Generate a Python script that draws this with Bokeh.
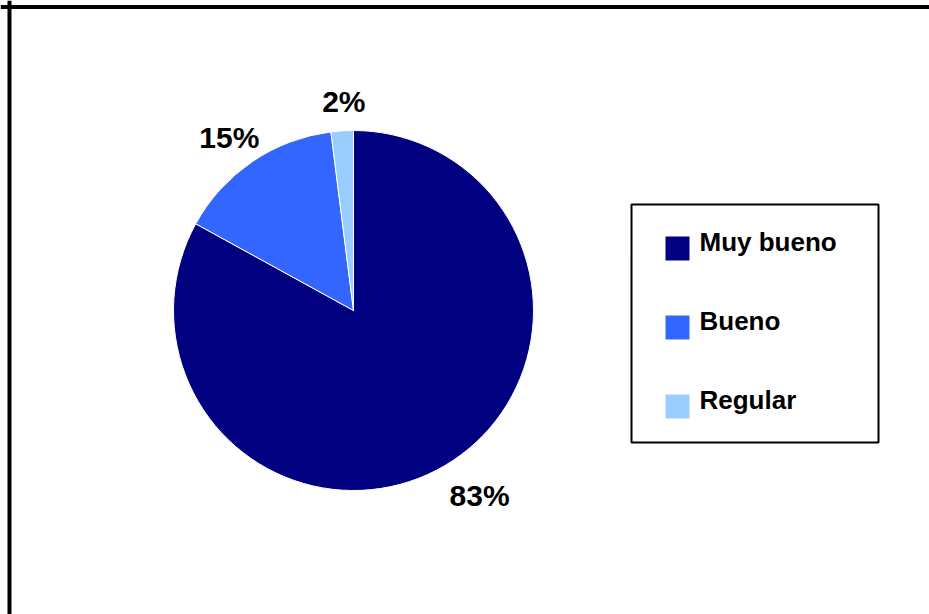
import math
from bokeh.plotting import figure
from bokeh.models import ColumnDataSource, Range1d, Span, BoxAnnotation
from bokeh.core.properties import value
from bokeh.embed import file_html
from bokeh.resources import INLINE

# ---- data ----
categories = ["Muy bueno", "Bueno", "Regular"]
values = [83, 15, 2]
labels = ["83%", "15%", "2%"]
colors = ["#000080", "#3366FF", "#99CCFF"]

W, H = 929, 614
CX, CY, R = 353, 304, 180
LABEL_FS = 30

total = sum(values)
starts, ends, lx, ly = [], [], [], []
cum = 0.0
for v, lab in zip(values, labels):
    a0 = math.pi / 2 - 2 * math.pi * cum / total
    cum += v
    a1 = math.pi / 2 - 2 * math.pi * cum / total
    starts.append(a0)
    ends.append(a1)
    mid = (a0 + a1) / 2
    ux, uy = math.cos(mid), math.sin(mid)
    w = 20 * len(lab)
    h = 22
    lx.append(CX + ux * (R + 18) + ux * w / 2 + 4 + (6 if ux > 0 else 0))
    ly.append(CY + uy * (R + 18) + uy * h / 2 - (5 if uy < 0 else 0))

src = ColumnDataSource(dict(cat=categories, val=values, start=starts, end=ends,
                            color=colors, lab=labels, lx=lx, ly=ly,
                            x=[CX] * len(values), y=[CY] * len(values)))

# legend layout (screen-like coordinates, y measured from the bottom)
LEG_PITCH = 79
leg_sq_y = [H - 248 - i * LEG_PITCH for i in range(len(categories))]
leg_tx_y = [H - 241 - i * LEG_PITCH for i in range(len(categories))]
leg_src = ColumnDataSource(dict(cat=categories, color=colors,
                                sx=[677] * len(categories), sy=leg_sq_y,
                                tx=[699] * len(categories), ty=leg_tx_y))

p = figure(width=W, height=H, output_backend="svg", toolbar_location=None,
           x_range=Range1d(0, W), y_range=Range1d(0, H),
           x_axis_type=None, y_axis_type=None, min_border=0,
           outline_line_color=None, background_fill_color="white",
           border_fill_color="white")
p.xgrid.visible = False
p.ygrid.visible = False

wr = p.wedge(x="x", y="y", radius=R, radius_units="screen",
             start_angle="start", end_angle="end", direction="clock",
             fill_color="color", line_color="white", line_width=1, source=src)

p.text(x="lx", y="ly", text="lab", source=src, text_align="center",
       text_baseline="middle", text_font=value("Liberation Sans"),
       text_font_style="bold", text_font_size=f"{LABEL_FS}px", text_color="black")

# outer frame (left and top edges visible)
p.add_layout(Span(location=9, dimension="height", line_color="black", line_width=4))
p.add_layout(Span(location=H - 6.5, dimension="width", line_color="black", line_width=4))

# legend box
p.add_layout(BoxAnnotation(left=631, right=878, bottom=H - 442, top=H - 204,
                           fill_color="white", fill_alpha=1.0,
                           line_color="black", line_width=2, line_alpha=1.0,
                           level="underlay"))

p.rect(x="sx", y="sy", width=24, height=24, width_units="screen", height_units="screen",
       fill_color="color", line_color=None, source=leg_src)
p.text(x="tx", y="ty", text="cat", source=leg_src, text_align="left",
       text_baseline="middle", text_font=value("Liberation Sans"),
       text_font_style="bold", text_font_size="26px", text_color="black")

open("out.html", "w").write(file_html(p, INLINE))
